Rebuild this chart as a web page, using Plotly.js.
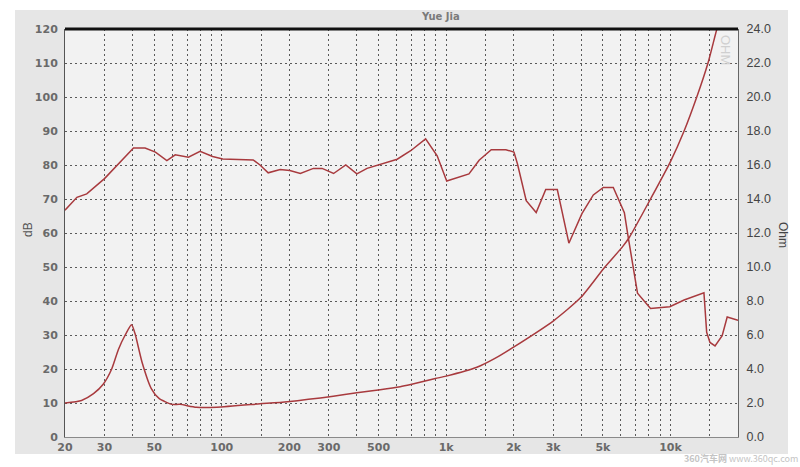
<!DOCTYPE html>
<html>
<head>
<meta charset="utf-8">
<script src="https://cdn.plot.ly/plotly-3.0.1.min.js"></script>
<style>html,body{margin:0;padding:0;background:#fff;}#chart{width:800px;height:467px;}</style>
</head>
<body>
<div id="chart"></div>
<script>
// Frequency response (SPL, dB)
const splFreq = [20, 22.6, 25, 30, 40.4, 45.5, 50.6, 56.9, 62, 71, 80, 91, 101, 138, 148, 161, 182, 201, 224, 256, 280, 315, 357, 400, 444, 527, 605, 695, 810, 912, 1006, 1264, 1403, 1589, 1847, 2006, 2080, 2275, 2520, 2780, 3130, 3525, 4030, 4530, 5020, 5560, 6230, 6450, 7130, 8150, 9930, 11500, 14100, 14500, 15000, 15800, 17000, 17900, 20000];
const splDb = [66.7, 70.5, 71.5, 76, 85, 85, 83.8, 81.3, 83, 82.3, 84, 82.5, 81.8, 81.5, 80, 77.7, 78.7, 78.4, 77.5, 79, 79, 77.5, 80, 77.4, 79, 80.4, 81.7, 84.2, 87.7, 82.7, 75.3, 77.4, 81.4, 84.5, 84.5, 83.8, 80.3, 69.5, 66, 72.8, 72.8, 57, 65.7, 71.2, 73.4, 73.4, 66, 59.6, 42.3, 37.8, 38.3, 40.3, 42.4, 30.8, 27.8, 26.8, 29.8, 35.3, 34.3];

// Impedance (Ohm)
const impFreq = [20, 23.7, 26.8, 29.6, 32.3, 34.6, 37.1, 39.6, 41, 44.1, 48.5, 52.5, 60, 65, 77, 95, 148, 196, 314, 400, 508, 624, 695, 895, 1000, 1371, 1650, 2006, 3020, 3980, 5030, 6120, 6560, 8150, 10000, 11500, 13100, 14700, 16100, 17000];
const impOhm = [2.0, 2.15, 2.55, 3.1, 4.0, 5.15, 6.0, 6.6, 6.1, 4.4, 2.85, 2.27, 1.92, 1.92, 1.75, 1.75, 1.95, 2.08, 2.4, 2.6, 2.78, 2.96, 3.09, 3.44, 3.58, 4.1, 4.62, 5.3, 6.85, 8.2, 9.9, 11.2, 11.75, 14, 16.2, 18, 20, 22, 24, 25];

// Axis ticks
const xGridVals = [30, 40, 50, 60, 70, 80, 90, 100, 150, 200, 300, 400, 500, 600, 700, 800, 900, 1000, 1500, 2000, 3000, 4000, 5000, 6000, 7000, 8000, 9000, 10000, 15000];
const xLabelVals = [20, 30, 50, 100, 200, 300, 500, 1000, 2000, 3000, 5000, 10000];
const xLabelText = ['20', '30', '50', '100', '200', '300', '500', '1k', '2k', '3k', '5k', '10k'];
const dbTicks = [0, 10, 20, 30, 40, 50, 60, 70, 80, 90, 100, 110, 120];
const ohmTicks = [0, 2, 4, 6, 8, 10, 12, 14, 16, 18, 20, 22, 24];

const curveColor = '#a83a3e';
const gridColor = '#5a5a5a';

// pixel helpers for placing annotations (plot area: x 65..738, y 29..437)
const px = v => (v - 65) / 673;
const py = v => (437 - v) / 408;

const traces = [
  {
    x: splFreq, y: splDb, type: 'scatter', mode: 'lines', name: 'SPL',
    line: {color: curveColor, width: 1.5}, yaxis: 'y', hoverinfo: 'skip'
  },
  {
    x: impFreq, y: impOhm, type: 'scatter', mode: 'lines', name: 'Impedance',
    line: {color: curveColor, width: 1.5, shape: 'spline', smoothing: 0.6}, yaxis: 'y2', hoverinfo: 'skip'
  },
  {x: [20, 20000], y: [null, null], xaxis: 'x2', yaxis: 'y', type: 'scatter', mode: 'lines', hoverinfo: 'skip', showlegend: false}
];

const layout = {
  width: 800, height: 467,
  margin: {l: 65, r: 62, t: 29, b: 30},
  paper_bgcolor: '#ffffff',
  plot_bgcolor: 'rgba(0,0,0,0)',
  showlegend: false,
  title: {
    text: '<b>Yue Jia</b>',
    font: {family: 'DejaVu Sans', size: 10, color: '#7a7a7a'},
    x: 0.551, xref: 'container', xanchor: 'center',
    y: 0.965, yref: 'container', yanchor: 'middle'
  },
  xaxis: {
    type: 'log',
    range: [Math.log10(20), Math.log10(20000)],
    tickvals: xLabelVals, ticktext: xLabelText,
    ticks: '', showgrid: false, zeroline: false,
    showline: true, linecolor: '#8a8a8a', linewidth: 1,
    tickfont: {family: 'DejaVu Sans', size: 11, color: '#6a6a6a', weight: 'bold'},
    fixedrange: true
  },
  xaxis2: {
    type: 'log', overlaying: 'x',
    range: [Math.log10(20), Math.log10(20000)],
    tickvals: xGridVals, showticklabels: false,
    ticks: '', showgrid: true, gridcolor: gridColor, gridwidth: 1, griddash: '2px,3px',
    zeroline: false, showline: false, fixedrange: true
  },
  yaxis: {
    range: [0, 120],
    tickvals: dbTicks,
    ticks: '', showgrid: true, gridcolor: gridColor, gridwidth: 1, griddash: '2px,3px',
    zeroline: false, showline: true, linecolor: '#555555', linewidth: 1,
    tickfont: {family: 'DejaVu Sans', size: 11, color: '#6a6a6a', weight: 'bold'},
    ticklabelstandoff: 4,
    fixedrange: true
  },
  yaxis2: {
    range: [0, 24], overlaying: 'y', side: 'right',
    tickvals: ohmTicks, tickformat: '.1f',
    ticks: '', showgrid: false, zeroline: false,
    showline: true, linecolor: '#666666', linewidth: 1,
    tickfont: {family: 'Liberation Sans', size: 12.5, color: '#444444'},
    ticklabelstandoff: 5,
    fixedrange: true
  },
  shapes: [
    {type: 'rect', xref: 'paper', yref: 'paper', x0: px(15), x1: px(788), y0: py(454), y1: py(10),
     fillcolor: '#e6e6e6', line: {width: 0}, layer: 'below'},
    {type: 'rect', xref: 'paper', yref: 'paper', x0: 0, x1: 1, y0: 0, y1: 1,
     fillcolor: '#f2f2f2', line: {width: 0}, layer: 'below'},
    {type: 'line', xref: 'paper', yref: 'paper', x0: 0, x1: 1, y0: 1, y1: 1,
     line: {color: '#111111', width: 3}}
  ],
  annotations: [
    {text: 'dB', xref: 'paper', yref: 'paper', x: px(28), y: py(230), xanchor: 'center', yanchor: 'middle',
     showarrow: false, textangle: -90, font: {family: 'Liberation Sans', size: 12, color: '#555555'}},
    {text: 'Ohm', xref: 'paper', yref: 'paper', x: px(783), y: py(235), xanchor: 'center', yanchor: 'middle',
     showarrow: false, textangle: 90, font: {family: 'Liberation Sans', size: 12, color: '#444444'}},
    {text: 'OHM', xref: 'paper', yref: 'paper', x: px(726), y: py(50), xanchor: 'center', yanchor: 'middle',
     showarrow: false, textangle: 90, font: {family: 'Liberation Sans', size: 13, color: '#cfcfcf'}},
    {text: '<b>360汽车网</b> www.360qc.com', xref: 'paper', yref: 'paper', x: px(741), y: py(458), xanchor: 'center', yanchor: 'middle',
     showarrow: false, font: {family: 'Noto Sans CJK SC', size: 9, color: '#c4c4c4'}}
  ]
};

Plotly.newPlot('chart', traces, layout, {displayModeBar: false, staticPlot: true});
</script>
</body>
</html>
